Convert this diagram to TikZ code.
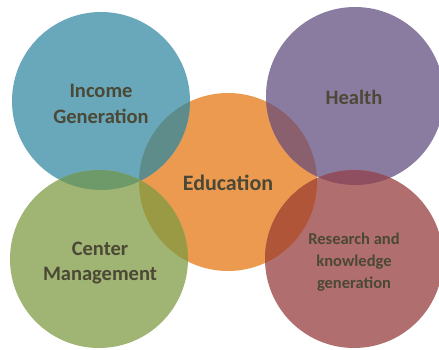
\documentclass[tikz,border=0pt]{standalone}
\usepackage{fontspec}
\setmainfont{Carlito}
\definecolor{incC}{HTML}{68A8BA}
\definecolor{heaC}{HTML}{8A7CA0}
\definecolor{eduC}{HTML}{EB9A50}
\definecolor{cenC}{HTML}{A0B474}
\definecolor{resC}{HTML}{B06E6E}
\definecolor{incedu}{HTML}{5E8C8A}
\definecolor{heaedu}{HTML}{8A5F6E}
\definecolor{cenedu}{HTML}{9A9A45}
\definecolor{resedu}{HTML}{B05538}
\definecolor{inccen}{HTML}{6E9A6A}
\definecolor{heares}{HTML}{904F60}
\definecolor{txtC}{HTML}{4B4836}
\tikzset{
	bubble/.style={circle, minimum size=178pt, inner sep=0pt},
	label text/.style={text=txtC, align=center, font=\bfseries\fontsize{20.5}{25.5}\selectfont}
}
\begin{document}
\begin{tikzpicture}[x=1pt, y=-1pt]
		\useasboundingbox (0,0) rectangle (439,349);
		
		% Circles
		\node[bubble, fill=eduC] (edu) at (228, 182) {};
		\node[bubble, fill=incC] (inc) at (101, 101) {};
		\node[bubble, fill=heaC] (hea) at (355, 96) {};
		\node[bubble, fill=cenC] (cen) at (99, 259) {};
		\node[bubble, fill=resC] (res) at (354, 259) {};
		
		% Overlaps
		\foreach \a/\b/\col in {inc/cen/inccen, hea/res/heares, inc/edu/incedu, hea/edu/heaedu, cen/edu/cenedu, res/edu/resedu} {
			\begin{scope}
				\clip (\a) circle (89pt);
				\fill[\col] (\b) circle (89pt);
			\end{scope}
		}
		
		% Labels
		\node[label text] (incT) at (101, 104) {Income\\Generation};
		\node[label text] (heaT) at (354, 97) {Health};
		\node[label text, font=\bfseries\fontsize{22}{25}\selectfont] (eduT) at (228, 183) {Education};
		\node[label text] (cenT) at (100, 263) {Center\\Management};
		\node[label text, font=\bfseries\fontsize{16.5}{22}\selectfont] (resT) at (354, 262) {Research and\\knowledge\\generation};
	\end{tikzpicture}
\end{document}
